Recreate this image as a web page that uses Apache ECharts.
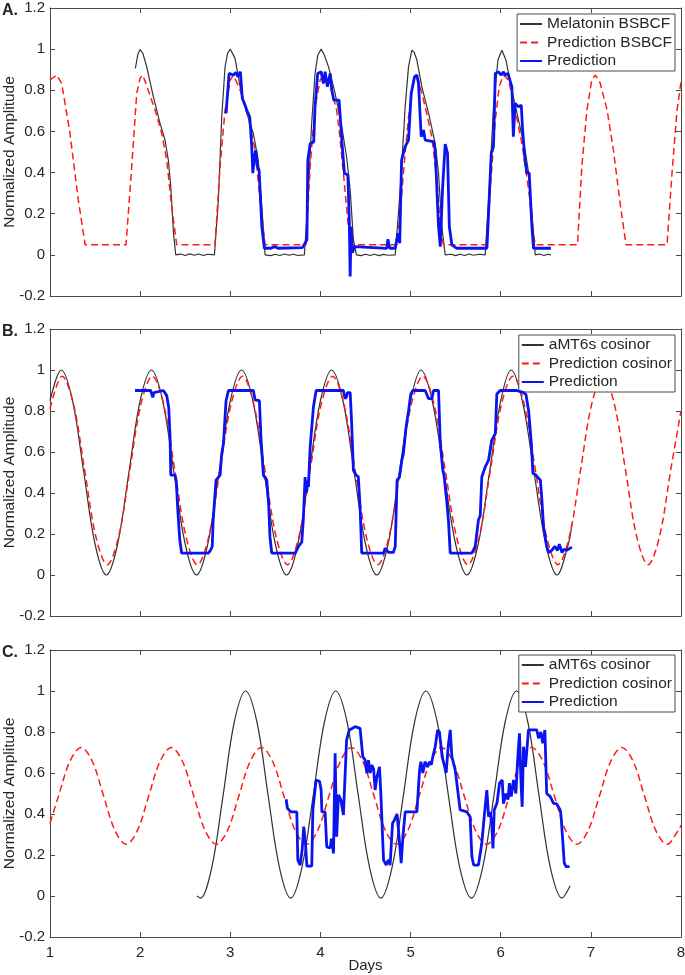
<!DOCTYPE html>
<html><head><meta charset="utf-8">
<script src="https://cdn.jsdelivr.net/npm/echarts@6/dist/echarts.min.js"></script>
<style>html,body{margin:0;padding:0;background:#fff}#c{width:685px;height:975px}</style>
</head><body><div id="c"></div>
<script>
// ---------- data (days, normalized amplitude) ----------
const melatoninA = [[1.947,0.906],[1.975,0.975],[2.0,0.998],[2.03,0.98],[2.073,0.914],[2.147,0.768],[2.22,0.64],[2.276,0.558],[2.313,0.46],[2.34,0.33],[2.37,0.105],[2.395,0.0],
[2.45,0.004],[2.5,-0.003],[2.55,0.005],[2.6,-0.002],[2.65,0.004],[2.7,-0.003],[2.75,0.003],[2.824,0.0],
[2.868,0.267],[2.905,0.67],[2.942,0.914],[2.97,0.98],[3.0,1.0],[3.053,0.955],[3.109,0.817],[3.183,0.688],[3.256,0.59],[3.31,0.46],[3.35,0.234],[3.386,0.0],
[3.45,-0.004],[3.5,0.003],[3.55,-0.003],[3.6,0.004],[3.65,-0.002],[3.7,0.003],[3.75,-0.003],[3.822,0.0],
[3.86,0.25],[3.9,0.62],[3.94,0.88],[3.97,0.97],[4.008,1.0],[4.04,0.975],[4.09,0.914],[4.163,0.785],[4.237,0.623],[4.29,0.477],[4.33,0.316],[4.366,0.073],[4.40,0.0],
[4.45,-0.004],[4.5,0.003],[4.55,-0.003],[4.6,0.003],[4.65,-0.004],[4.7,0.002],[4.75,-0.002],[4.83,0.0],
[4.885,0.316],[4.94,0.72],[4.977,0.914],[5.014,0.995],[5.04,0.985],[5.07,0.947],[5.125,0.817],[5.2,0.688],[5.273,0.542],[5.31,0.397],[5.347,0.137],[5.384,0.0],
[5.45,0.003],[5.5,-0.004],[5.55,0.003],[5.6,-0.003],[5.65,0.004],[5.7,-0.002],[5.76,0.003],[5.828,0.0],
[5.872,0.316],[5.92,0.72],[5.969,0.947],[6.013,0.995],[6.058,0.947],[6.124,0.80],[6.198,0.655],[6.27,0.51],[6.31,0.397],[6.346,0.20],[6.383,0.0],
[6.43,0.004],[6.48,-0.003],[6.52,0.003],[6.557,0.0]];

const predBsbcfA = [[1.0,0.85],[1.074,0.874],[1.13,0.833],[1.222,0.59],[1.314,0.267],[1.39,0.049],[1.843,0.049],[1.907,0.43],[1.962,0.785],[2.0,0.86],[2.03,0.874],[2.09,0.80],[2.165,0.704],[2.24,0.59],[2.295,0.46],[2.35,0.234],[2.406,0.049],
[2.83,0.049],[2.887,0.43],[2.942,0.704],[3.0,0.85],[3.035,0.874],[3.11,0.80],[3.2,0.67],[3.275,0.51],[3.33,0.267],[3.386,0.049],
[3.84,0.049],[3.886,0.43],[3.94,0.72],[3.997,0.85],[4.033,0.874],[4.11,0.817],[4.18,0.704],[4.207,0.607],[4.255,0.397],[4.31,0.137],[4.355,0.049],
[4.85,0.049],[4.885,0.20],[4.92,0.397],[4.977,0.67],[5.014,0.80],[5.05,0.866],[5.088,0.85],[5.162,0.72],[5.236,0.574],[5.292,0.364],[5.33,0.137],[5.365,0.049],
[5.847,0.049],[5.883,0.316],[5.94,0.655],[5.983,0.817],[6.03,0.874],[6.087,0.85],[6.16,0.704],[6.235,0.542],[6.31,0.316],[6.357,0.121],[6.383,0.049],
[6.852,0.049],[6.90,0.43],[6.956,0.704],[7.01,0.85],[7.05,0.874],[7.10,0.84],[7.18,0.704],[7.25,0.51],[7.33,0.234],[7.39,0.049],
[7.845,0.049],[7.90,0.397],[7.956,0.704],[8.0,0.84]];

const predictionA = [[2.953,0.688],[2.987,0.882],[3.035,0.874],[3.061,0.887],[3.083,0.866],[3.112,0.89],[3.134,0.76],[3.164,0.728],[3.186,0.70],[3.216,0.67],[3.238,0.526],[3.25,0.397],[3.268,0.477],[3.283,0.51],[3.297,0.437],[3.32,0.41],[3.35,0.137],[3.378,0.032],[3.45,0.032],[3.49,0.04],[3.53,0.032],[3.80,0.035],
[3.85,0.073],[3.86,0.46],[3.886,0.54],[3.926,0.55],[3.94,0.72],[3.97,0.882],[4.008,0.89],[4.033,0.833],[4.052,0.89],[4.078,0.817],[4.108,0.882],[4.127,0.80],[4.149,0.752],[4.207,0.752],[4.237,0.558],[4.266,0.397],[4.304,0.388],[4.32,0.17],[4.33,-0.105],[4.34,0.137],[4.355,0.01],[4.378,0.04],[4.40,0.032],
[4.737,0.032],[4.748,0.076],[4.77,0.032],[4.83,0.032],[4.86,0.105],[4.88,0.057],[4.90,0.46],[4.94,0.526],[4.977,0.558],[5.007,0.785],[5.044,0.866],[5.07,0.874],[5.088,0.833],[5.118,0.574],[5.143,0.607],[5.162,0.558],[5.255,0.55],[5.273,0.51],[5.31,0.137],[5.33,0.04],[5.354,0.316],[5.384,0.539],[5.41,0.494],[5.43,0.137],[5.458,0.049],[5.513,0.032],
[5.847,0.032],[5.865,0.20],[5.895,0.494],[5.92,0.526],[5.94,0.882],[5.975,0.89],[6.005,0.874],[6.031,0.89],[6.05,0.874],[6.08,0.882],[6.10,0.89],[6.124,0.817],[6.14,0.574],[6.16,0.736],[6.198,0.72],[6.228,0.728],[6.243,0.607],[6.27,0.46],[6.29,0.397],[6.316,0.397],[6.346,0.137],[6.364,0.032],[6.557,0.032]];

const cosinorB = [[1.0,0.85],[1.125,1.0],[1.25,0.85],[1.375,0.5],[1.5,0.15],[1.625,0.0],[1.75,0.15],[1.875,0.5],
[2.0,0.85],[2.125,1.0],[2.25,0.85],[2.375,0.5],[2.5,0.15],[2.625,0.0],[2.75,0.15],[2.875,0.5],
[3.0,0.85],[3.125,1.0],[3.25,0.85],[3.375,0.5],[3.5,0.15],[3.625,0.0],[3.75,0.15],[3.875,0.5],
[4.0,0.85],[4.125,1.0],[4.25,0.85],[4.375,0.5],[4.5,0.15],[4.625,0.0],[4.75,0.15],[4.875,0.5],
[5.0,0.85],[5.115,1.0],[5.24,0.85],[5.37,0.5],[5.5,0.15],[5.625,0.0],[5.75,0.15],[5.875,0.5],
[6.0,0.85],[6.115,1.0],[6.24,0.85],[6.37,0.5],[6.5,0.15],[6.625,0.0],[6.75,0.15],[6.79,0.25]];

const predCosinorB = [[1.0,0.81],
[1.135,0.97],[1.26,0.835],[1.385,0.51],[1.51,0.185],[1.635,0.05],[1.76,0.185],[1.885,0.51],[2.01,0.835],
[2.135,0.97],[2.26,0.835],[2.385,0.51],[2.51,0.185],[2.635,0.05],[2.76,0.185],[2.885,0.51],[3.01,0.835],
[3.135,0.97],[3.26,0.835],[3.385,0.51],[3.51,0.185],[3.635,0.05],[3.76,0.185],[3.885,0.51],[4.01,0.835],
[4.135,0.97],[4.26,0.835],[4.385,0.51],[4.51,0.185],[4.635,0.05],[4.76,0.185],[4.885,0.51],[5.01,0.835],
[5.135,0.97],[5.26,0.835],[5.385,0.51],[5.51,0.185],[5.635,0.05],[5.76,0.185],[5.885,0.51],[6.01,0.835],
[6.135,0.97],[6.26,0.835],[6.385,0.51],[6.51,0.185],[6.635,0.05],[6.76,0.185],[6.885,0.51],[7.01,0.835],
[7.135,0.97],[7.26,0.835],[7.385,0.51],[7.51,0.185],[7.635,0.05],[7.76,0.185],[7.885,0.51],[8.0,0.80]];

const predictionB = [[1.943,0.90],[2.117,0.90],[2.14,0.867],[2.154,0.89],[2.175,0.895],[2.258,0.90],[2.295,0.875],[2.317,0.818],[2.332,0.673],[2.34,0.487],[2.385,0.487],[2.40,0.463],[2.42,0.30],[2.44,0.171],[2.46,0.107],[2.757,0.107],[2.78,0.12],[2.80,0.139],[2.81,0.268],[2.842,0.463],[2.887,0.487],[2.905,0.592],[2.924,0.64],[2.953,0.85],[2.98,0.90],
[3.256,0.90],[3.275,0.854],[3.323,0.85],[3.34,0.673],[3.367,0.487],[3.405,0.463],[3.427,0.333],[3.44,0.187],[3.46,0.107],[3.72,0.107],[3.756,0.139],[3.793,0.16],[3.81,0.268],[3.83,0.478],[3.84,0.40],[3.85,0.414],[3.858,0.46],[3.867,0.43],[3.886,0.624],[3.922,0.818],[3.952,0.90],
[4.255,0.90],[4.274,0.86],[4.29,0.87],[4.30,0.89],[4.33,0.89],[4.345,0.754],[4.366,0.511],[4.395,0.487],[4.42,0.48],[4.44,0.333],[4.458,0.107],[4.70,0.107],[4.718,0.131],[4.737,0.14],[4.755,0.11],[4.81,0.11],[4.83,0.14],[4.85,0.463],[4.877,0.478],[4.903,0.56],[4.92,0.592],[4.95,0.72],[4.977,0.80],[5.003,0.883],[5.025,0.90],
[5.162,0.90],[5.2,0.86],[5.236,0.86],[5.255,0.90],[5.31,0.90],[5.33,0.64],[5.358,0.511],[5.373,0.48],[5.40,0.365],[5.42,0.268],[5.44,0.107],[5.606,0.107],[5.62,0.11],[5.68,0.107],[5.717,0.139],[5.745,0.24],[5.753,0.268],[5.773,0.29],[5.79,0.478],[5.828,0.527],[5.865,0.56],[5.90,0.657],[5.94,0.69],[5.957,0.883],[5.994,0.90],
[6.18,0.90],[6.253,0.89],[6.28,0.88],[6.31,0.80],[6.34,0.64],[6.357,0.495],[6.383,0.49],[6.44,0.463],[6.457,0.365],[6.475,0.236],[6.51,0.139],[6.53,0.11],[6.566,0.12],[6.6,0.14],[6.63,0.12],[6.65,0.15],[6.68,0.11],[6.70,0.125],[6.73,0.12],[6.79,0.136]];

const cosinorC = [[2.63,0.0],[2.67,-0.01],[2.795,0.14],[2.92,0.49],[3.045,0.85],[3.17,1.0],[3.295,0.85],[3.42,0.49],[3.545,0.14],
[3.67,-0.01],[3.795,0.14],[3.92,0.49],[4.045,0.85],[4.17,1.0],[4.295,0.85],[4.42,0.49],[4.545,0.14],
[4.67,-0.01],[4.795,0.14],[4.92,0.49],[5.045,0.85],[5.17,1.0],[5.295,0.85],[5.42,0.49],[5.545,0.14],
[5.675,-0.01],[5.8,0.14],[5.925,0.49],[6.05,0.85],[6.175,1.0],[6.3,0.85],[6.425,0.49],[6.55,0.14],
[6.68,-0.01],[6.77,0.05]];

const predCosinorC = [[1.0,0.355],
[1.095,0.488],[1.22,0.656],[1.345,0.725],[1.47,0.656],[1.595,0.488],[1.72,0.32],[1.845,0.252],[1.97,0.32],
[2.095,0.488],[2.22,0.656],[2.345,0.725],[2.47,0.656],[2.595,0.488],[2.72,0.32],[2.845,0.252],[2.97,0.32],
[3.095,0.488],[3.22,0.656],[3.345,0.725],[3.47,0.656],[3.595,0.488],[3.72,0.32],[3.845,0.252],[3.97,0.32],
[4.095,0.488],[4.22,0.656],[4.345,0.725],[4.47,0.656],[4.595,0.488],[4.72,0.32],[4.845,0.252],[4.97,0.32],
[5.095,0.488],[5.22,0.656],[5.345,0.725],[5.47,0.656],[5.595,0.488],[5.72,0.32],[5.845,0.252],[5.97,0.32],
[6.095,0.488],[6.22,0.656],[6.345,0.725],[6.47,0.656],[6.595,0.488],[6.72,0.32],[6.845,0.252],[6.97,0.32],
[7.095,0.488],[7.22,0.656],[7.345,0.725],[7.47,0.656],[7.595,0.488],[7.72,0.32],[7.845,0.252],[7.97,0.32],[8.0,0.345]];

const predictionC = [[3.62,0.472],[3.634,0.428],[3.67,0.41],[3.738,0.41],[3.749,0.176],[3.775,0.151],[3.797,0.224],[3.815,0.338],[3.834,0.257],[3.85,0.146],[3.904,0.146],[3.916,0.42],[3.938,0.428],[3.952,0.566],[3.99,0.56],[4.008,0.517],[4.016,0.41],[4.052,0.41],[4.07,0.24],[4.108,0.235],[4.122,0.28],[4.145,0.208],[4.163,0.696],[4.18,0.289],[4.2,0.493],[4.227,0.47],[4.255,0.395],[4.29,0.76],[4.32,0.81],[4.385,0.826],[4.44,0.818],
[4.47,0.68],[4.496,0.663],[4.515,0.598],[4.533,0.663],[4.552,0.6],[4.57,0.639],[4.59,0.62],[4.607,0.517],[4.626,0.58],[4.655,0.63],[4.67,0.5],[4.70,0.176],[4.73,0.151],[4.755,0.176],[4.773,0.151],[4.80,0.355],[4.82,0.37],[4.85,0.4],[4.866,0.322],[4.896,0.16],[4.915,0.289],[4.94,0.41],[5.07,0.41],
[5.10,0.615],[5.114,0.655],[5.136,0.6],[5.16,0.655],[5.187,0.63],[5.21,0.655],[5.23,0.64],[5.247,0.68],[5.273,0.728],[5.30,0.81],[5.32,0.80],[5.35,0.68],[5.37,0.68],[5.395,0.6],[5.417,0.728],[5.44,0.81],[5.458,0.68],[5.495,0.615],[5.55,0.42],[5.625,0.41],[5.66,0.387],[5.68,0.192],[5.70,0.151],[5.753,0.151],
[5.79,0.257],[5.817,0.387],[5.846,0.517],[5.865,0.387],[5.883,0.41],[5.9,0.355],[5.914,0.232],[5.928,0.42],[5.958,0.452],[5.987,0.55],[6.017,0.566],[6.03,0.45],[6.058,0.5],[6.08,0.47],[6.097,0.55],[6.117,0.485],[6.142,0.566],[6.168,0.5],[6.19,0.68],[6.208,0.794],[6.223,0.58],[6.238,0.435],[6.253,0.728],[6.275,0.63],[6.29,0.71],[6.308,0.81],
[6.346,0.81],[6.364,0.818],[6.4,0.81],[6.42,0.77],[6.445,0.8],[6.467,0.745],[6.49,0.81],[6.51,0.5],[6.55,0.485],[6.586,0.452],[6.62,0.45],[6.66,0.42],[6.67,0.387],[6.705,0.16],[6.727,0.143],[6.764,0.143]];

const panelLetters = ['A.', 'B.', 'C.'];
const legendA = ['Melatonin BSBCF', 'Prediction BSBCF', 'Prediction'];
const legendBC = ['aMT6s cosinor', 'Prediction cosinor', 'Prediction'];
const xLabel = 'Days';
const yLabel = 'Normalized Amplitude';

// ---------- layout ----------
const FONT = '"Liberation Sans", Arial, Helvetica, sans-serif';
const AX = '#4a4a4a', TXT = '#262626';
const grids = [
  {left: 50, top: 8, width: 631, height: 288, outerBoundsMode: 'none', containLabel: false},
  {left: 50, top: 329, width: 631, height: 287, outerBoundsMode: 'none', containLabel: false},
  {left: 50, top: 650, width: 631, height: 287, outerBoundsMode: 'none', containLabel: false}
];
const xAxes = [], yAxes = [];
grids.forEach((g, i) => {
  const last = i === grids.length - 1;
  const base = {type: 'value', gridIndex: i, min: 1, max: 8, interval: 1,
    axisLine: {show: true, onZero: false, lineStyle: {color: AX, width: 1}},
    axisTick: {show: true, inside: true, length: 5, lineStyle: {color: AX}},
    splitLine: {show: false}};
  xAxes.push(Object.assign({}, base, {position: 'bottom',
    axisLabel: {show: last, color: TXT, fontSize: 15, fontFamily: FONT, margin: 8},
    name: last ? xLabel : '', nameLocation: 'middle', nameGap: 21, nameMoveOverlap: false,
    nameTextStyle: {color: TXT, fontSize: 15, fontFamily: FONT}}));
  xAxes.push(Object.assign({}, base, {position: 'top', axisLabel: {show: false}}));
  const ybase = {type: 'value', gridIndex: i, min: -0.2, max: 1.2, interval: 0.2,
    axisLine: {show: true, onZero: false, lineStyle: {color: AX, width: 1}},
    axisTick: {show: true, inside: true, length: 5, lineStyle: {color: AX}},
    splitLine: {show: false}};
  yAxes.push(Object.assign({}, ybase, {position: 'left',
    axisLabel: {color: TXT, fontSize: 15, fontFamily: FONT, margin: 5},
    name: yLabel, nameLocation: 'middle', nameGap: 32, nameMoveOverlap: false,
    nameTextStyle: {color: TXT, fontSize: 15.5, fontFamily: FONT}}));
  yAxes.push(Object.assign({}, ybase, {position: 'right', axisLabel: {show: false}}));
});

function blackLine(name, data, gi, smooth) {
  return {name, type: 'line', data, xAxisIndex: 2*gi, yAxisIndex: 2*gi, symbol: 'none',
    smooth: smooth ? 0.35 : false, lineStyle: {color: '#333', width: 1.2}, itemStyle: {color: '#333'}, z: 2, animation: false};
}
function redLine(name, data, gi, smooth) {
  return {name, type: 'line', data, xAxisIndex: 2*gi, yAxisIndex: 2*gi, symbol: 'none',
    smooth: smooth ? 0.35 : false, lineStyle: {color: '#ff1a1a', width: 1.5, type: [7, 4]}, itemStyle: {color: '#ff1a1a'}, z: 3, animation: false};
}
function blueLine(name, data, gi) {
  return {name, type: 'line', data, xAxisIndex: 2*gi, yAxisIndex: 2*gi, symbol: 'none',
    lineStyle: {color: '#0a14f0', width: 2.8}, itemStyle: {color: '#0a14f0'}, z: 4, animation: false};
}

const series = [
  blackLine(legendA[0], melatoninA, 0, false),
  redLine(legendA[1], predBsbcfA, 0, false),
  blueLine(legendA[2], predictionA, 0),
  blackLine(legendBC[0], cosinorB, 1, true),
  redLine(legendBC[1], predCosinorB, 1, true),
  blueLine(legendBC[2], predictionB, 1),
  blackLine(legendBC[0], cosinorC, 2, true),
  redLine(legendBC[1], predCosinorC, 2, true),
  blueLine(legendBC[2], predictionC, 2)
];

function legend(data, top) {
  return {data, top, right: 10, orient: 'vertical', selectedMode: false,
    itemWidth: 22, itemHeight: 14, itemGap: 2.5, padding: [2, 3, 2, 2],
    itemStyle: {opacity: 0},
    backgroundColor: '#fff', borderColor: AX, borderWidth: 1, borderRadius: 0,
    textStyle: {color: TXT, fontSize: 15.5, lineHeight: 16, fontFamily: FONT}};
}

const chart = echarts.init(document.getElementById('c'));
chart.setOption({
  animation: false,
  backgroundColor: '#fff',
  grid: grids,
  xAxis: xAxes,
  yAxis: yAxes,
  legend: [legend(legendA, 14), legend(legendBC, 335), legend(legendBC, 655)],
  series,
  graphic: grids.map((g, i) => ({type: 'text', left: 2, top: g.top - 5,
    style: {text: panelLetters[i], font: 'bold 16px ' + FONT, fill: TXT}}))
});
</script>
</body></html>
